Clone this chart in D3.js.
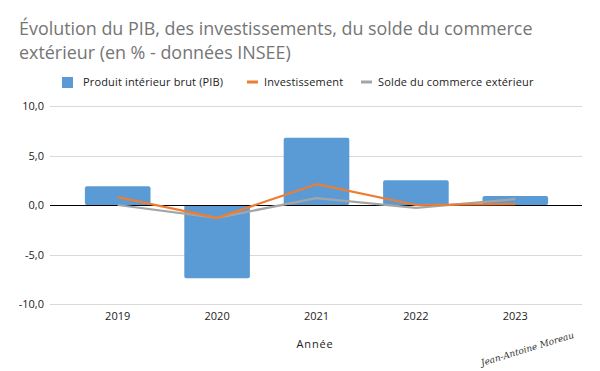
<!DOCTYPE html>
<html>
<head>
<meta charset="utf-8">
<script src="https://cdn.jsdelivr.net/npm/d3@7"></script>
<style>
  body { margin: 0; background: #fff; }
  svg { display: block; font-family: "Open Sans", "Noto Sans", sans-serif; }
</style>
</head>
<body>
<svg id="chart" width="600" height="371"></svg>
<script>
// données INSEE, en %
const years = ["2019", "2020", "2021", "2022", "2023"]
const pib = [1.9, -7.4, 6.8, 2.5, 0.9]
const investissement = [0.8, -1.3, 2.1, 0.0, 0.1]
const solde = [0.0, -1.3, 0.7, -0.3, 0.6]
const yTicks = [-10, -5, 0, 5, 10]

const width = 600
const height = 371
const margin = { left: 50, right: 18, top: 106, bottom: 67 }

const svg = d3.select("#chart")

const x = d3.scaleBand()
  .domain(years)
  .range([68, 565])
  .paddingInner(0.34)
  .paddingOuter(0.17)

const y = d3.scaleLinear()
  .domain([-10, 10])
  .range([height - margin.bottom, margin.top])

const fmt = d => d.toFixed(1).replace(".", ",")

// titre
svg.append("g")
  .attr("fill", "#757575")
  .attr("font-size", 17.9)
  .selectAll("text")
  .data(["Évolution du PIB, des investissements, du solde du commerce", "extérieur (en % - données INSEE)"])
  .join("text")
  .attr("x", 19)
  .attr("y", (d, i) => 35 + i * 24)
  .text(d => d)

// grille
svg.append("g")
  .selectAll("line")
  .data(yTicks.filter(d => d !== 0))
  .join("line")
  .attr("x1", margin.left)
  .attr("x2", width - margin.right)
  .attr("y1", d => Math.round(y(d)) + 0.5)
  .attr("y2", d => Math.round(y(d)) + 0.5)
  .attr("stroke", "#d9d9d9")
  .attr("stroke-width", 1)

// axe Y
const yAxis = g => g
  .attr("transform", `translate(${margin.left},0)`)
  .call(d3.axisLeft(y).tickValues(yTicks).tickFormat(fmt).tickSize(0).tickPadding(6))
  .call(g => g.select(".domain").remove())
  .call(g => g.selectAll("text")
    .attr("fill", "#222")
    .attr("font-size", 11)
    .attr("font-family", "'Open Sans', sans-serif"))

svg.append("g").call(yAxis)

// barres PIB
svg.append("g")
  .selectAll("rect")
  .data(pib)
  .join("rect")
  .attr("x", (d, i) => x(years[i]))
  .attr("width", x.bandwidth())
  .attr("y", d => y(Math.max(0, d)))
  .attr("height", d => Math.abs(y(d) - y(0)))
  .attr("rx", 2)
  .attr("fill", "#5b9bd5")

// ligne zéro
svg.append("line")
  .attr("x1", margin.left)
  .attr("x2", width - margin.right)
  .attr("y1", Math.round(y(0)) + 0.5)
  .attr("y2", Math.round(y(0)) + 0.5)
  .attr("stroke", "#000")
  .attr("stroke-width", 1)

const line = d3.line()
  .x((d, i) => x(years[i]) + x.bandwidth() / 2)
  .y(d => y(d))

svg.append("path")
  .datum(solde)
  .attr("fill", "none")
  .attr("stroke", "#a5a5a5")
  .attr("stroke-width", 2.25)
  .attr("stroke-linejoin", "round")
  .attr("d", line)

svg.append("path")
  .datum(investissement)
  .attr("fill", "none")
  .attr("stroke", "#ed7d31")
  .attr("stroke-width", 2.25)
  .attr("stroke-linejoin", "round")
  .attr("d", line)

// axe X
const xAxis = g => g
  .attr("transform", `translate(0,${y(-10)})`)
  .call(d3.axisBottom(x).tickSize(0).tickPadding(8))
  .call(g => g.select(".domain").remove())
  .call(g => g.selectAll("text")
    .attr("fill", "#222")
    .attr("font-size", 11)
    .attr("font-family", "'Open Sans', sans-serif"))

svg.append("g").call(xAxis)

svg.append("text")
  .attr("x", 315)
  .attr("y", 348)
  .attr("text-anchor", "middle")
  .attr("font-size", 11)
  .attr("letter-spacing", 0.8)
  .attr("fill", "#222")
  .text("Année")

// légende
const legend = [
  { name: "Produit intérieur brut (PIB)", color: "#5b9bd5", type: "rect", x: 62 },
  { name: "Investissement", color: "#ed7d31", type: "line", x: 247 },
  { name: "Solde du commerce extérieur", color: "#a5a5a5", type: "line", x: 361 }
]

const lg = svg.append("g")
  .selectAll("g")
  .data(legend)
  .join("g")
  .attr("transform", d => `translate(${d.x},0)`)

lg.filter(d => d.type === "rect")
  .append("rect")
  .attr("y", 77)
  .attr("width", 11)
  .attr("height", 11)
  .attr("fill", d => d.color)

lg.filter(d => d.type === "line")
  .append("line")
  .attr("x1", 0)
  .attr("x2", 11)
  .attr("y1", 82)
  .attr("y2", 82)
  .attr("stroke", d => d.color)
  .attr("stroke-width", 3)

lg.append("text")
  .attr("x", d => d.type === "rect" ? 21 : 17)
  .attr("y", 86)
  .attr("font-size", 11)
  .attr("letter-spacing", 0.15)
  .attr("fill", "#222")
  .text(d => d.name)

// signature
svg.append("text")
  .attr("transform", "translate(482,366) rotate(-17)")
  .attr("font-family", "'DejaVu Serif', serif")
  .attr("font-style", "italic")
  .attr("font-size", 9)
  .attr("fill", "#333")
  .text("Jean-Antoine Moreau")
</script>
</body>
</html>
